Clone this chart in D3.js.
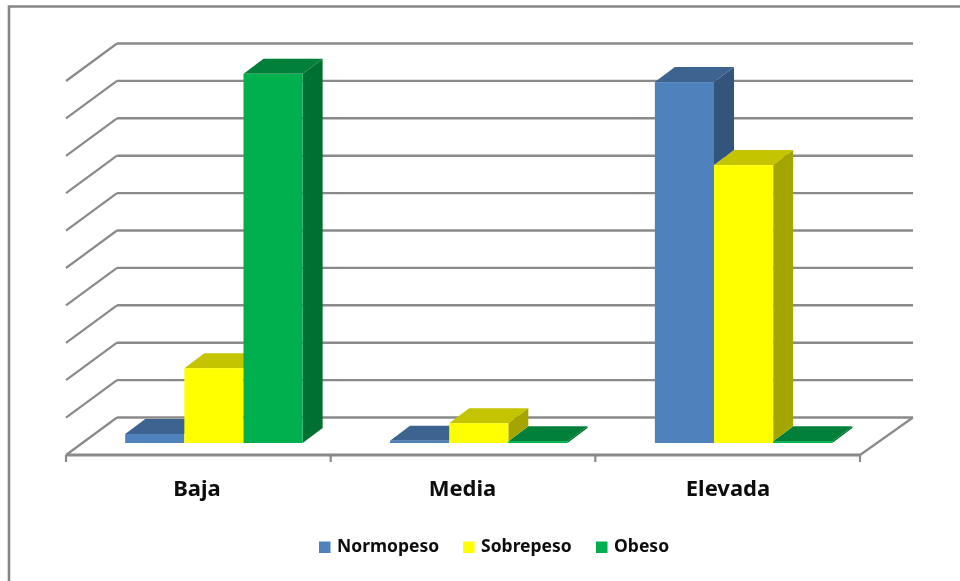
<!DOCTYPE html>
<html><head><meta charset="utf-8">
<script src="https://cdn.jsdelivr.net/npm/d3@7"></script>
<style>
html,body{margin:0;padding:0;background:#fff}
svg{display:block}
text{font-family:"Noto Sans",sans-serif;font-weight:700;fill:#0c0c0c}
</style></head><body>
<svg id="c" width="960" height="581"></svg>
<script>
const categories = ["Baja","Media","Elevada"];
const seriesNames = ["Normopeso","Sobrepeso","Obeso"];
const normopeso = [2.4,0.6,96.5];
const sobrepeso = [20,5.3,74.3];
const obeso = [98.7,0.5,0.5];
const gridTicks = [0,10,20,30,40,50,60,70,80,90,100];
const frontColors = ["#4f81bd","#ffff00","#00b050"];
const topColors = ["#3c6491","#c4c400","#008038"];
const sideColors = ["#32547c","#a5a500","#007030"];
const seriesValues = [normopeso,sobrepeso,obeso];

const svg = d3.select("#c");
const wallDx = 51, wallDy = -37.5, barDx = 20, barDy = -15, floorInset = 12;
const x0 = d3.scaleBand().domain(categories).range([81.5,876]).paddingInner(0.33).paddingOuter(0.165);
const x1 = d3.scaleBand().domain(seriesNames).range([0,x0.bandwidth()]);
const y = d3.scaleLinear().domain([0,100]).range([455,81]);
const axisX = d3.scalePoint().domain(d3.range(categories.length+1)).range([66,860]);

const defs = svg.append("defs");
defs.append("filter").attr("id","soft").append("feGaussianBlur").attr("stdDeviation",0.55);
defs.append("filter").attr("id","softText").append("feGaussianBlur").attr("stdDeviation",0.35);

// frame
svg.append("path").attr("d","M9,581V6.5H960").attr("fill","none").attr("stroke","#858585").attr("stroke-width",2.6);

const plot = svg.append("g").attr("filter","url(#soft)");
const gridColor = "#8a8a8a";
// back wall lines
plot.selectAll("line.back").data(gridTicks).join("line").attr("class","back")
  .attr("x1",66+wallDx).attr("x2",860+wallDx+2)
  .attr("y1",d=>y(d)+wallDy).attr("y2",d=>y(d)+wallDy)
  .attr("stroke",gridColor).attr("stroke-width",2.4);
// side wall lines
plot.selectAll("line.wall").data(gridTicks).join("line").attr("class","wall")
  .attr("x1",66).attr("x2",66+wallDx)
  .attr("y1",d=>y(d)).attr("y2",d=>y(d)+wallDy)
  .attr("stroke",gridColor).attr("stroke-width",2.2);
// floor
plot.append("line").attr("x1",66).attr("x2",860).attr("y1",y(0)).attr("y2",y(0)).attr("stroke",gridColor).attr("stroke-width",2.8);
plot.append("line").attr("x1",860).attr("x2",860+wallDx+2).attr("y1",y(0)).attr("y2",y(0)+wallDy).attr("stroke",gridColor).attr("stroke-width",2.2);
plot.selectAll("line.tick").data(axisX.domain()).join("line").attr("class","tick")
  .attr("x1",d=>axisX(d)).attr("x2",d=>axisX(d)).attr("y1",y(0)).attr("y2",y(0)+7)
  .attr("stroke",gridColor).attr("stroke-width",2.2);

// bars
const bars = [];
categories.forEach((c,ci)=>seriesNames.forEach((s,si)=>{
  const next = si<seriesNames.length-1 ? seriesValues[si+1][ci] : null;
  bars.push({c,s,si,v:seriesValues[si][ci],next});
}));
const yb = v => y(v)-floorInset;
const poly = pts => pts.map(p=>p.join(",")).join(" ");
const L = d => x0(d.c)+x1(d.s), W = x1.bandwidth();
// tops
plot.selectAll("polygon.top").data(bars).join("polygon").attr("class","top")
  .attr("fill",d=>topColors[d.si])
  .attr("points",d=>{const t=yb(d.v),l=L(d);return poly([[l,t],[l+W,t],[l+W+barDx,t+barDy],[l+barDx,t+barDy]]);});
// sides: only the part that rises above the neighbouring bar
plot.selectAll("polygon.side").data(bars.filter(d=>d.next===null||d.v>d.next)).join("polygon").attr("class","side")
  .attr("fill",d=>sideColors[d.si])
  .attr("points",d=>{const t=yb(d.v),b=yb(d.next===null?0:d.next),r=L(d)+W;return poly([[r,t],[r+barDx,t+barDy],[r+barDx,b+barDy],[r,b]]);});
// fronts
plot.selectAll("rect.front").data(bars).join("rect").attr("class","front")
  .attr("fill",d=>frontColors[d.si])
  .attr("x",L).attr("width",W).attr("y",d=>yb(d.v)).attr("height",d=>yb(0)-yb(d.v));

// category labels
svg.selectAll("text.cat").data(categories).join("text").attr("class","cat")
  .attr("filter","url(#softText)")
  .attr("x",(d,i)=>[197,462.5,728][i]).attr("y",496).attr("text-anchor","middle")
  .attr("font-size",22).text(d=>d);

// legend
const legendSw = d3.scaleOrdinal().domain(seriesNames).range([319,463,596]);
const lg = svg.selectAll("g.lg").data(seriesNames).join("g").attr("class","lg");
lg.append("rect").attr("x",d=>legendSw(d)).attr("y",541.5).attr("width",11.5).attr("height",11.5).attr("fill",(d,i)=>frontColors[i]);
lg.append("text").attr("filter","url(#softText)").attr("x",d=>legendSw(d)+18).attr("y",552).attr("font-size",17.5).text(d=>d);
</script>
</body></html>
